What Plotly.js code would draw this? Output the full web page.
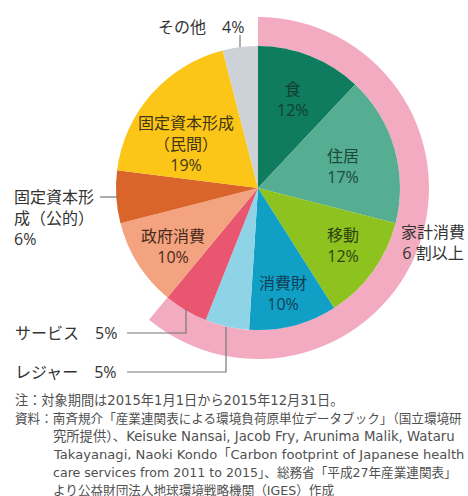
<!DOCTYPE html>
<html>
<head>
<meta charset="utf-8">
<script src="https://cdn.plot.ly/plotly-3.0.1.min.js"></script>
<style>
  html, body { margin: 0; padding: 0; background: #fff; }
  #chart { width: 468px; height: 496px; }
</style>
</head>
<body>
<div id="chart"></div>
<script>
// data
const sectors = ['食', '住居', '移動', '消費財', 'レジャー', 'サービス', '政府消費', '固定資本形成（公的）', '固定資本形成（民間）', 'その他'];
const shares = [12, 17, 12, 10, 5, 5, 10, 6, 19, 4];
const householdCount = 6; // first six sectors are household consumption
const ringLabels = ['家計消費', 'それ以外'];
const noteLines = [
    '注：対象期間は2015年1月1日から2015年12月31日。',
    '資料：南斉規介「産業連関表による環境負荷原単位データブック」（国立環境研',
    '究所提供）、Keisuke Nansai, Jacob Fry, Arunima Malik, Wataru',
    'Takayanagi, Naoki Kondo「Carbon footprint of Japanese health',
    'care services from 2011 to 2015」、総務省「平成27年産業連関表」',
    'より公益財団法人地球環境戦略機関（IGES）作成'
];

const sliceColors = ['#0f7b5f', '#55ad92', '#8dc21f', '#10a0c6', '#8ed3e6', '#e8566f', '#f3a37f', '#d9652a', '#fbc617', '#cdd2d9'];
const ringColor = '#f3abc1';
const FONT = '"Open Sans", "Noto Sans CJK JP", sans-serif';
const NOTE_FONT = '"DejaVu Sans", "Noto Sans CJK JP", sans-serif';
const noteSizes = [13.2, 12.6, 13.3, 13.1, 12.6, 12.6];

const W = 468, H = 496;
const cx = 258, cy = 188, R = 142, RO = 171;
const fx = x => x / W;
const fy = y => 1 - y / H;
const dom = r => ({ x: [fx(cx - r), fx(cx + r)], y: [fy(cy + r), fy(cy - r)] });

const total = shares.reduce((a, b) => a + b, 0);
const household = shares.slice(0, householdCount).reduce((a, b) => a + b, 0);

const ring = {
    type: 'pie', values: [household, total - household], labels: ringLabels,
    domain: dom(RO), hole: R / RO, sort: false, direction: 'clockwise', rotation: 0,
    marker: { colors: [ringColor, 'rgba(0,0,0,0)'], line: { width: 0 } },
    textinfo: 'none', hoverinfo: 'none', showlegend: false
};
const pie = {
    type: 'pie', values: shares, labels: sectors,
    domain: dom(R), sort: false, direction: 'clockwise', rotation: 0,
    marker: { colors: sliceColors, line: { width: 0 } },
    textinfo: 'none', hoverinfo: 'label+percent', showlegend: false
};

// labels inside slices, placed along each slice's middle angle
const insideText = ['食', '住居', '移動', '消費財', null, null, '政府消費', null, '固定資本形成<br>（民間）'];
const textColors = ['#123f30', '#1b4a3b', '#2e4410', '#123f55', null, null, '#4a2a1c', null, '#433616'];
const labelR = [95, 88, 103, 108, 0, 0, 103, 0, 84];
const labelTurn = [0, 2, -2, 1, 0, 0, -2, 0, -10];

const annotations = [];
let cum = 0;
shares.forEach((v, i) => {
    const mid = (cum + v / 2) / total * 360 + labelTurn[i];
    cum += v;
    if (!insideText[i]) return;
    const a = mid * Math.PI / 180;
    annotations.push({
        xref: 'paper', yref: 'paper', showarrow: false,
        x: fx(cx + labelR[i] * Math.sin(a)), y: fy(cy - labelR[i] * Math.cos(a)),
        xanchor: 'center', yanchor: 'middle', align: 'center',
        text: insideText[i] + '<br>' + v + '%',
        font: { family: FONT, size: 16, color: textColors[i] }
    });
});

const outside = (text, x, y, xanchor, align) => ({
    xref: 'paper', yref: 'paper', showarrow: false, x: fx(x), y: fy(y),
    xanchor: xanchor, yanchor: 'middle', align: align, text: text,
    font: { family: FONT, size: 16, color: '#333' }
});
annotations.push(outside(sectors[9] + '\u3000' + shares[9] + '%', 156, 27, 'left', 'left'));
annotations.push(outside('固定資本形<br>成（公的）<br>' + shares[7] + '%', 12, 218, 'left', 'left'));
annotations.push(outside('サービス\u3000' + shares[5] + '%', 13, 333, 'left', 'left'));
annotations.push(outside('レジャー\u3000' + shares[4] + '%', 13, 372, 'left', 'left'));
annotations.push(outside('家計消費<br>' + Math.floor(household / 10) + ' 割以上', 433, 242, 'center', 'center'));

noteLines.forEach((t, i) => {
    annotations.push({
        xref: 'paper', yref: 'paper', showarrow: false,
        x: fx(i < 2 ? 13 : 51), y: fy(400 + i * 18), xanchor: 'left', yanchor: 'middle',
        text: t, font: { family: NOTE_FONT, size: noteSizes[i], color: '#505050' }
    });
});

const lead = path => ({
    type: 'path', xref: 'paper', yref: 'paper',
    path: path.map((p, k) => (k ? 'L' : 'M') + fx(p[0]) + ',' + fy(p[1])).join(' '),
    line: { color: '#777', width: 1.2 }
});
const shapes = [
    lead([[240, 35], [240, 47]]),
    lead([[100, 197], [118, 197]]),
    lead([[127, 333], [186, 333], [186, 309]]),
    lead([[127, 372], [226, 372], [226, 327]])
];

Plotly.newPlot('chart', [ring, pie], {
    width: W, height: H,
    margin: { l: 0, r: 0, t: 0, b: 0 },
    paper_bgcolor: '#fff',
    annotations: annotations,
    shapes: shapes
}, { displayModeBar: false, staticPlot: true });
</script>
</body>
</html>
